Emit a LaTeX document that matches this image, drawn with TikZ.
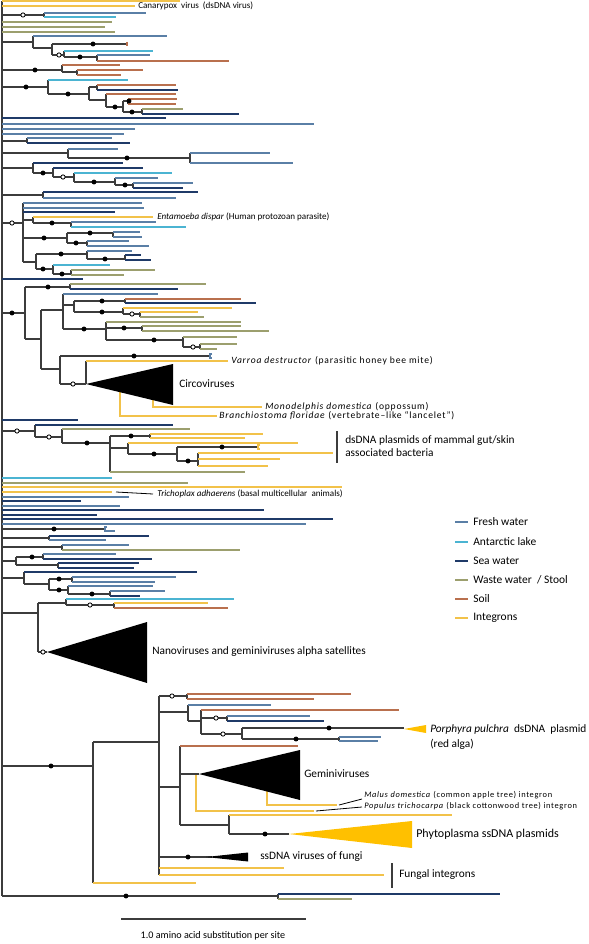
\documentclass[tikz,border=0pt]{standalone}
\usepackage{fontspec}
\setmainfont{Carlito}
\definecolor{cfw}{HTML}{5A7FA6}
\definecolor{cal}{HTML}{4BB4D2}
\definecolor{csw}{HTML}{1F3A68}
\definecolor{cww}{HTML}{9C9F6E}
\definecolor{cso}{HTML}{B9704E}
\definecolor{cig}{HTML}{F2C24A}
\definecolor{cin}{HTML}{3C3C3C}
\definecolor{cgold}{HTML}{FFC000}
\tikzset{
  base/.style={line width=0.8pt},
  fw/.style={base,cfw}, al/.style={base,cal}, sw/.style={base,csw},
  ww/.style={base,cww}, so/.style={base,cso}, ig/.style={base,cig},
  inl/.style={base,cin},
  lbls/.style={inner sep=0pt,anchor=west,font=\fontsize{6.8}{8}\selectfont},
  lblm/.style={inner sep=0pt,anchor=west,font=\fontsize{7.2}{8}\selectfont\addfontfeatures{LetterSpace=8}},
  lblt/.style={inner sep=0pt,anchor=west,font=\fontsize{6.3}{7}\selectfont\addfontfeatures{LetterSpace=8}},
  lblb/.style={inner sep=0pt,anchor=west,font=\fontsize{8.5}{10}\selectfont},
  lgd/.style={inner sep=0pt,anchor=west,font=\fontsize{8.6}{10}\selectfont},
  bar/.style={line width=0.8pt,cin}
}
\newcommand\tlf[4]{\draw[#1] (#2,#3) -- (#4,#3);}
\newcommand\tvt[3]{\draw[inl] (#1,#2) -- (#1,#3);}
\newcommand\tdt[2]{\fill[black] (#1,#2) circle[radius=1.85pt];}
\newcommand\tod[2]{\draw[black,fill=white,line width=0.6pt] (#1,#2) circle[radius=1.6pt];}
\newcommand\tlg[4]{\draw[line width=0.8pt,#1] (455,#3) -- (468,#3); \node[lgd] (#4) at (473,#3) {#2};}
\begin{document}
\begin{tikzpicture}[x=0.75pt,y=-0.75pt]
\useasboundingbox (0,0) rectangle (588,944);
\fill[white] (0,0) rectangle (588,944);
% root
\tvt{2}{1}{896}
% ---------- top
\tlf{ig}{2}{1}{180}
\tlf{ig}{2}{6}{135}
\node[lbls] (canary) at (138,6) {Canarypox\ \ virus\ \ (dsDNA virus)};
\tlf{inl}{2}{15}{44} \tvt{44}{13}{17}
\tlf{fw}{44}{13}{146} \tlf{al}{44}{17}{116}
\tod{23}{15}
\tlf{ww}{2}{22}{112}
\tlf{ww}{2}{27}{105}
\tlf{ww}{2}{32}{115}
% clade 42
\tlf{inl}{2}{42}{33} \tvt{33}{36}{48}
\tlf{fw}{33}{36}{167}
\tlf{inl}{33}{48}{52} \tvt{52}{44}{55}
\tlf{inl}{52}{44}{127}
\draw[so] (127,42) -- (127,46);
\tlf{inl}{52}{55}{64} \tvt{64}{51}{57}
\tlf{al}{64}{51}{153}
\tlf{inl}{64}{57}{97} \tvt{97}{55}{61}
\tlf{fw}{97}{55}{150} \tlf{so}{97}{61}{229}
\tdt{93}{44} \tod{59}{55} \tdt{80}{57}
% clade 70
\tlf{inl}{2}{70}{62} \tvt{62}{65}{72}
\tlf{so}{62}{65}{120}
\tlf{inl}{62}{72}{77} \tvt{77}{70}{75}
\tlf{so}{77}{70}{143} \tlf{so}{77}{75}{121}
\tdt{35}{70}
% clade 87
\tlf{inl}{2}{87}{48} \tvt{48}{80}{94}
\tlf{al}{48}{80}{128}
\tlf{inl}{48}{94}{89} \tvt{89}{87}{100}
\tlf{inl}{89}{87}{97} \tvt{97}{85}{90}
\tlf{so}{97}{85}{176} \tlf{sw}{97}{90}{178}
\tlf{inl}{89}{100}{106} \tvt{106}{94}{107}
\tlf{so}{106}{94}{176}
\tlf{inl}{106}{107}{123} \tvt{123}{101}{112}
\tlf{inl}{123}{101}{128} \tvt{128}{99}{104}
\tlf{so}{128}{99}{177} \tlf{so}{128}{104}{176}
\tlf{inl}{123}{112}{142} \tvt{142}{109}{114}
\tlf{ww}{142}{109}{183} \tlf{sw}{142}{114}{239}
\tdt{26}{87} \tdt{68}{94} \tdt{115}{107} \tdt{129}{101} \tdt{132}{112}
% leaves
\tlf{sw}{2}{118}{166}
\tlf{fw}{2}{124}{314}
\tlf{fw}{2}{129}{135}
\tlf{fw}{2}{134}{124}
\tlf{inl}{2}{141}{27} \tvt{27}{138}{143}
\tlf{fw}{27}{138}{112} \tlf{sw}{27}{143}{130}
% clade 153
\tlf{inl}{2}{153}{68} \tvt{68}{149}{158}
\tlf{fw}{68}{149}{118}
\tlf{inl}{68}{158}{190} \tvt{190}{153}{163}
\tlf{fw}{190}{153}{270} \tlf{fw}{190}{163}{293}
\tdt{127}{158}
% clade 168
\tlf{inl}{2}{168}{33} \tvt{33}{163}{173}
\tlf{sw}{33}{163}{123}
\tlf{inl}{33}{173}{53} \tvt{53}{168}{177}
\tlf{sw}{53}{168}{143}
\tlf{inl}{53}{177}{74} \tvt{74}{173}{182}
\tlf{al}{74}{173}{172}
\tlf{inl}{74}{182}{115} \tvt{115}{178}{185}
\tlf{fw}{115}{178}{158}
\tlf{inl}{115}{185}{133} \tvt{133}{183}{188}
\tlf{fw}{133}{183}{193} \tlf{sw}{133}{188}{183}
\tdt{43}{173} \tod{63}{177} \tdt{94}{182} \tdt{125}{185}
% clade 195
\tlf{inl}{2}{195}{43} \tvt{43}{192}{198}
\tlf{sw}{43}{192}{198} \tlf{fw}{43}{198}{176}
% big clade 223
\tlf{inl}{2}{223}{23} \tvt{23}{203}{262}
\tlf{fw}{23}{203}{142}
\tlf{fw}{23}{208}{144}
\tlf{sw}{23}{212}{115}
\tlf{inl}{23}{220}{33} \tvt{33}{217}{223}
\tlf{ig}{33}{217}{153}
\node[lbls] (entam) at (157,217) {\textit{Entamoeba dispar} (Human protozoan parasite)};
\tlf{inl}{33}{223}{71} \tvt{71}{222}{227}
\tlf{fw}{71}{222}{156} \tlf{al}{71}{227}{186}
\tlf{inl}{23}{238}{67} \tvt{67}{233}{243}
\tlf{inl}{67}{233}{113} \tvt{113}{232}{237}
\tlf{fw}{113}{232}{140} \tlf{fw}{113}{237}{142}
\tlf{inl}{67}{243}{87} \tvt{87}{241}{246}
\tlf{fw}{87}{241}{129} \tlf{fw}{87}{246}{149}
\tlf{inl}{23}{262}{36} \tvt{36}{254}{269}
\tlf{inl}{36}{254}{87} \tvt{87}{251}{259}
\tlf{fw}{87}{251}{132}
\tlf{inl}{87}{259}{125} \tvt{125}{255}{260}
\tlf{sw}{125}{255}{141} \tlf{sw}{125}{260}{151}
\tlf{inl}{36}{269}{53} \tvt{53}{265}{274}
\tlf{al}{53}{265}{110}
\tlf{inl}{53}{274}{71} \tvt{71}{270}{275}
\tlf{ww}{71}{270}{155} \tlf{ww}{71}{275}{124}
\tod{12}{223} \tdt{52}{223} \tdt{44}{238} \tdt{90}{233} \tdt{76}{243}
\tdt{61}{254} \tdt{105}{259} \tdt{43}{269} \tdt{62}{274}
% clade 313
\tlf{sw}{2}{279}{83}
\tlf{inl}{2}{313}{25} \tvt{25}{287}{339}
\tlf{inl}{25}{287}{70} \tvt{70}{284}{289}
\tlf{ww}{70}{284}{206} \tlf{sw}{70}{289}{178}
\tlf{inl}{25}{339}{41} \tvt{41}{310}{369}
\tlf{inl}{41}{310}{63} \tvt{63}{294}{329}
\tlf{fw}{63}{294}{158}
\tlf{inl}{63}{305}{74} \tvt{74}{301}{312}
\tlf{inl}{74}{301}{125} \tvt{125}{299}{303}
\tlf{so}{125}{299}{241} \tlf{sw}{125}{303}{256}
\tlf{inl}{74}{312}{123} \tvt{123}{308}{314}
\tlf{ig}{123}{308}{232}
\tlf{inl}{123}{314}{140} \tvt{140}{312}{317}
\tlf{ig}{140}{312}{198} \tlf{ww}{140}{317}{204}
\tlf{inl}{63}{329}{106} \tvt{106}{322}{340}
\tlf{ww}{106}{322}{241}
\tlf{inl}{106}{328}{142} \tvt{142}{326}{331}
\tlf{ww}{142}{326}{241} \tlf{ww}{142}{331}{269}
\tlf{inl}{106}{340}{183} \tvt{183}{337}{347}
\tlf{ww}{183}{337}{237}
\tlf{inl}{183}{347}{200} \tvt{200}{344}{349}
\tlf{ww}{200}{344}{237} \tlf{ww}{200}{349}{217}
\tlf{inl}{41}{369}{60} \tvt{60}{356}{384}
\tlf{inl}{60}{356}{210}
\draw[fw] (212,354) -- (210,354) -- (210,358) -- (212,358);
\tlf{inl}{60}{384}{86} \tvt{86}{361}{384}
\tlf{ig}{86}{361}{228}
\node[lblm] (varroa) at (231,361) {\textit{Varroa destructor} (parasitic honey bee mite)};
\draw[ig] (120,392) -- (120,416) -- (217,416);
\draw[ig] (153,398) -- (153,407) -- (262,407);
\fill[black] (86,384) -- (173,364) -- (173,405) -- cycle;
\node[lblb] (circo) at (179,384) {Circoviruses};
\node[lblm] (monod) at (265,407) {\textit{Monodelphis domestica} (oppossum)};
\node[lblm] (branch) at (219,416) {\textit{Branchiostoma floridae} (vertebrate–like “lancelet”)};
\tdt{12}{313} \tdt{48}{287} \tdt{102}{301} \tdt{102}{312} \tod{132}{314}
\tdt{84}{329} \tdt{124}{328} \tdt{154}{340} \tod{193}{347} \tdt{134}{356} \tod{73}{384}
% clade 431
\tlf{sw}{2}{420}{78}
\tlf{inl}{2}{431}{35} \tvt{35}{425}{437}
\tlf{sw}{35}{425}{173}
\tlf{inl}{35}{437}{62} \tvt{62}{429}{443}
\tlf{ww}{62}{429}{190}
\tlf{inl}{62}{443}{110} \tvt{110}{436}{472}
\tlf{inl}{110}{436}{150} \tvt{150}{434}{438}
\tlf{ig}{150}{434}{263} \tlf{ig}{150}{438}{245}
\tlf{inl}{110}{448}{128} \tvt{128}{443}{454}
\tlf{ig}{128}{443}{298}
\tlf{inl}{128}{454}{177} \tvt{177}{447}{461}
\tlf{inl}{177}{447}{258}
\draw[ig] (260,445) -- (258,445) -- (258,449) -- (260,449);
\tlf{inl}{177}{461}{198} \tvt{198}{453}{466}
\tlf{ig}{198}{453}{333} \tlf{ig}{198}{459}{280} \tlf{ig}{198}{466}{268}
\tlf{ww}{110}{472}{245}
\tod{17}{431} \tod{49}{437} \tdt{87}{443} \tdt{131}{436} \tdt{154}{454} \tdt{222}{447} \tdt{188}{461}
\draw[bar] (337,431) -- (337,463);
\node[lblb] (dsdna1) at (345,441) {dsDNA plasmids of mammal gut/skin};
\node[lblb] (dsdna2) at (345,453) {associated bacteria};
% leaves 478-529
\tlf{al}{2}{478}{112}
\tlf{ww}{2}{483}{188}
\tlf{ig}{2}{487}{342}
\tlf{ig}{2}{492}{112}
\draw[line width=0.6pt,black] (116,492) -- (153,494);
\node[lbls] (trich) at (157,494) {\textit{Trichoplax adhaerens} (basal multicellular\ \ animals)};
\tlf{fw}{2}{497}{129}
\tlf{sw}{2}{501}{81}
\tlf{fw}{2}{506}{120}
\tlf{sw}{2}{510}{264}
\tlf{sw}{2}{515}{97}
\tlf{sw}{2}{519}{333}
\tlf{fw}{2}{524}{306}
\tlf{inl}{2}{529}{105}
\draw[fw] (107,527) -- (105,527) -- (105,531) -- (115,531);
\tdt{54}{529}
\tlf{inl}{2}{538}{49} \tvt{49}{536}{540}
\tlf{sw}{49}{536}{149} \tlf{fw}{49}{540}{106}
\tlf{inl}{2}{547}{62} \tvt{62}{545}{550}
\tlf{fw}{62}{545}{129} \tlf{ww}{62}{550}{240}
\tlf{inl}{2}{561}{16} \tvt{16}{557}{565}
\tlf{inl}{16}{557}{43} \tvt{43}{554}{559}
\tlf{fw}{43}{554}{116} \tlf{sw}{43}{559}{152}
\tlf{inl}{16}{565}{58} \tvt{58}{563}{568}
\tlf{sw}{58}{563}{139} \tlf{sw}{58}{568}{134}
\tdt{32}{557}
\tlf{inl}{2}{578}{24} \tvt{24}{572}{584}
\tlf{sw}{24}{572}{197}
\tlf{inl}{24}{584}{49} \tvt{49}{579}{590}
\tlf{inl}{49}{579}{72} \tvt{72}{577}{582}
\tlf{fw}{72}{577}{176} \tlf{fw}{72}{582}{155}
\tlf{inl}{49}{590}{68} \tvt{68}{586}{594}
\tlf{fw}{68}{586}{153}
\tlf{inl}{68}{594}{110} \tvt{110}{591}{596}
\tlf{fw}{110}{591}{165} \tlf{sw}{110}{596}{140}
\tdt{59}{579} \tdt{59}{590} \tdt{92}{594}
% clade 613
\tlf{inl}{2}{613}{38} \tvt{38}{603}{652}
\tlf{inl}{38}{603}{66} \tvt{66}{599}{605}
\tlf{al}{66}{599}{234}
\tlf{inl}{66}{605}{114} \tvt{114}{603}{608}
\tlf{ig}{114}{603}{208} \tlf{so}{114}{608}{228}
\tod{90}{605}
\tlf{inl}{38}{652}{47}
\fill[black] (47,652) -- (147,622) -- (147,683) -- cycle;
\tod{43}{652}
\node[lblb] (nano) at (152,652) {Nanoviruses and geminiviruses alpha satellites};
% ---------- bottom clade
\tlf{inl}{2}{766}{93} \tvt{93}{742}{883}
\tdt{51}{766}
\tlf{inl}{93}{742}{159} \tvt{159}{696}{875}
\tlf{inl}{159}{696}{187} \tvt{187}{694}{699}
\tlf{so}{187}{694}{351} \tlf{so}{187}{699}{314}
\tod{172}{696}
\tlf{inl}{159}{712}{188} \tvt{188}{705}{721}
\tlf{fw}{188}{705}{271}
\tlf{inl}{188}{721}{201} \tvt{201}{710}{734}
\tlf{so}{201}{710}{399}
\tlf{inl}{201}{718}{227} \tvt{227}{716}{721}
\tlf{fw}{227}{716}{310} \tlf{sw}{227}{721}{324}
\tlf{inl}{201}{734}{242} \tvt{242}{728}{739}
\tlf{inl}{242}{728}{404}
\fill[cgold] (404,729) -- (426,725) -- (426,733) -- cycle;
\tlf{inl}{242}{739}{339} \tvt{339}{737}{741}
\tlf{fw}{339}{737}{381} \tlf{fw}{339}{741}{378}
\tod{216}{718} \tod{223}{734} \tdt{329}{728} \tdt{296}{739}
\node[lblb] (porph1) at (430,729) {\textit{Porphyra pulchra}\ \ dsDNA\ \ plasmid};
\node[lblb] (porph2) at (430,744) {(red alga)};
% geminiviruses
\tlf{inl}{159}{787}{180} \tvt{180}{746}{825}
\tlf{so}{180}{746}{298}
\draw[ig] (267,790) -- (267,805) -- (337,805);
\draw[ig] (196,774) -- (196,811) -- (314,811);
\tlf{inl}{180}{774}{199}
\fill[black] (199,774) -- (300,750) -- (300,800) -- cycle;
\node[lblb] (gemini) at (304,774) {Geminiviruses};
\draw[line width=0.6pt,black] (339,805) -- (362,799);
\draw[line width=0.6pt,black] (316,811) -- (362,807);
\node[lblt] (malus) at (364,795) {\textit{Malus domestica} (common apple tree) integron};
\node[lblt] (popul) at (364,806) {\textit{Populus trichocarpa} (black cottonwood tree) integron};
\tlf{inl}{180}{825}{229} \tvt{229}{815}{834}
\tlf{ig}{229}{815}{452}
\tlf{inl}{229}{834}{289}
\fill[cgold] (289,834) -- (412,821) -- (412,848) -- cycle;
\tdt{265}{834}
\node[lblb,font=\fontsize{9}{10}\selectfont] (phyto) at (416,834) {Phytoplasma ssDNA plasmids};
\tlf{inl}{159}{857}{212}
\fill[black] (206,857) -- (248,852.5) -- (248,861.5) -- cycle;
\tdt{188}{857}
\node[lblb] (fungi) at (260,857) {ssDNA viruses of fungi};
\tlf{ig}{159}{868}{284}
\tlf{ig}{159}{875}{384}
\draw[bar] (392,863) -- (392,888);
\node[lblb] (fungint) at (399,875) {Fungal integrons};
\tlf{ig}{93}{883}{196}
% root bottom
\tlf{inl}{2}{896}{278} \tvt{278}{894}{899}
\tlf{sw}{278}{894}{500} \tlf{ww}{278}{899}{352}
\tdt{126}{896}
% scale bar
\draw[line width=0.9pt,cin] (121,919) -- (306,919);
\node[inner sep=0pt,font=\fontsize{7.6}{9}\selectfont] (scale) at (213,936) {1.0 amino acid substitution per site};
% legend
\tlg{cfw}{Fresh water}{522}{lg1}
\tlg{cal}{Antarctic lake}{542}{lg2}
\tlg{csw}{Sea water}{561}{lg3}
\tlg{cww}{Waste water\ \ / Stool}{580}{lg4}
\tlg{cso}{Soil}{599}{lg5}
\tlg{cig}{Integrons}{618}{lg6}
\end{tikzpicture}
\end{document}
